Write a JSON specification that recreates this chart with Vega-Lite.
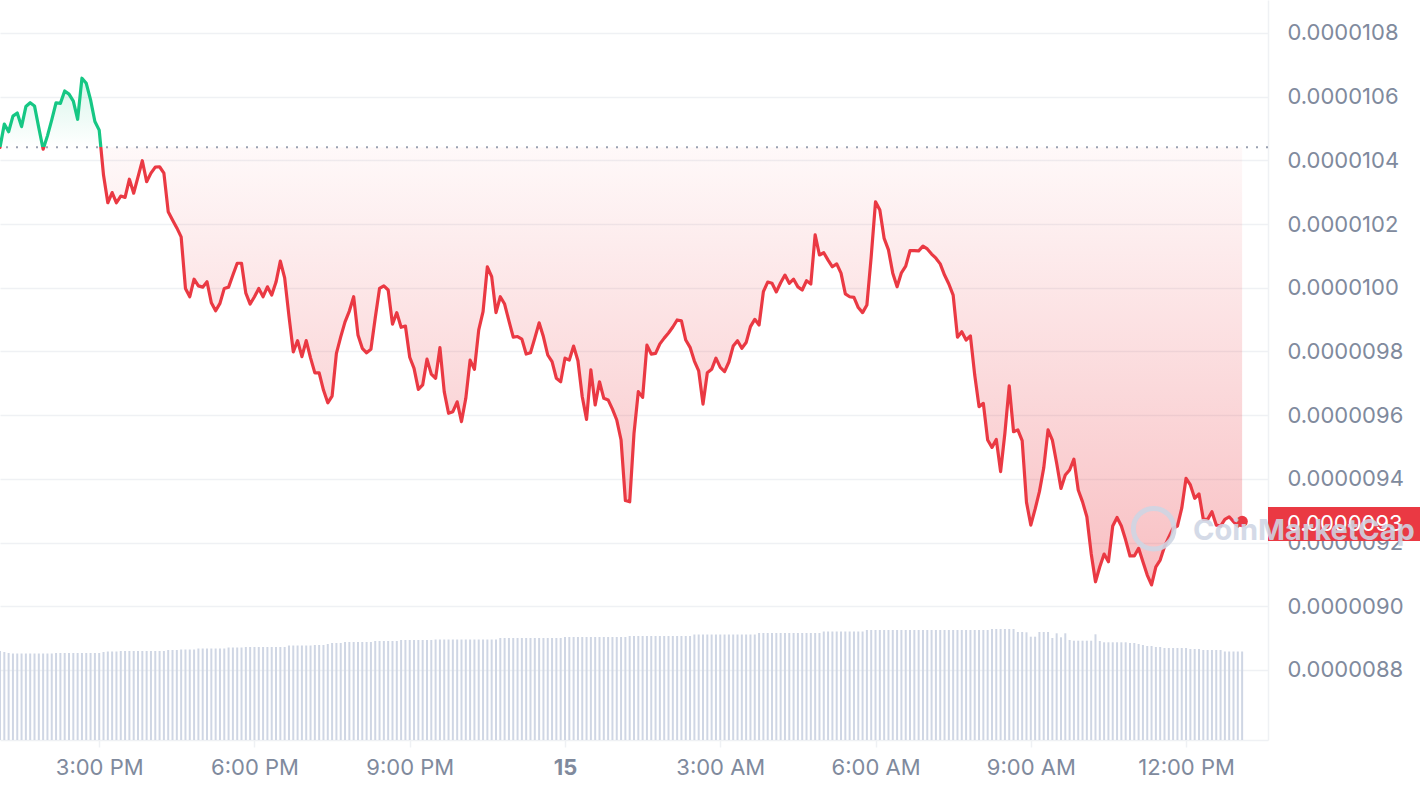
{
  "$schema": "https://vega.github.io/schema/vega-lite/v6.json",
  "width": 1268,
  "height": 740,
  "autosize": {"type": "none"},
  "padding": {"left": 0, "top": 0, "right": 152, "bottom": 52},
  "background": "#ffffff",
  "config": {"view": {"stroke": null}},
  "datasets": {
    "d": [
      {"t":"2024-12-14T13:05Z","p":10.441e-6,"v":89},
      {"t":"2024-12-14T13:10Z","p":10.514e-6,"v":88},
      {"t":"2024-12-14T13:15Z","p":10.490e-6,"v":87},
      {"t":"2024-12-14T13:20Z","p":10.539e-6,"v":86.5},
      {"t":"2024-12-14T13:25Z","p":10.549e-6,"v":86.5},
      {"t":"2024-12-14T13:30Z","p":10.506e-6,"v":86.5},
      {"t":"2024-12-14T13:35Z","p":10.569e-6,"v":86.5},
      {"t":"2024-12-14T13:40Z","p":10.581e-6,"v":86.5},
      {"t":"2024-12-14T13:45Z","p":10.571e-6,"v":86.5},
      {"t":"2024-12-14T13:50Z","p":10.502e-6,"v":86.5},
      {"t":"2024-12-14T13:55Z","p":10.435e-6,"v":86.5},
      {"t":"2024-12-14T14:00Z","p":10.477e-6,"v":86.5},
      {"t":"2024-12-14T14:05Z","p":10.527e-6,"v":86.5},
      {"t":"2024-12-14T14:10Z","p":10.581e-6,"v":87},
      {"t":"2024-12-14T14:15Z","p":10.579e-6,"v":87},
      {"t":"2024-12-14T14:20Z","p":10.618e-6,"v":87},
      {"t":"2024-12-14T14:25Z","p":10.608e-6,"v":87},
      {"t":"2024-12-14T14:30Z","p":10.586e-6,"v":87},
      {"t":"2024-12-14T14:35Z","p":10.529e-6,"v":87},
      {"t":"2024-12-14T14:40Z","p":10.658e-6,"v":87},
      {"t":"2024-12-14T14:45Z","p":10.642e-6,"v":87},
      {"t":"2024-12-14T14:50Z","p":10.590e-6,"v":87},
      {"t":"2024-12-14T14:55Z","p":10.522e-6,"v":87},
      {"t":"2024-12-14T15:00Z","p":10.495e-6,"v":87},
      {"t":"2024-12-14T15:05Z","p":10.354e-6,"v":88},
      {"t":"2024-12-14T15:10Z","p":10.267e-6,"v":88.5},
      {"t":"2024-12-14T15:15Z","p":10.299e-6,"v":88.5},
      {"t":"2024-12-14T15:20Z","p":10.267e-6,"v":88.5},
      {"t":"2024-12-14T15:25Z","p":10.288e-6,"v":89},
      {"t":"2024-12-14T15:30Z","p":10.284e-6,"v":89},
      {"t":"2024-12-14T15:35Z","p":10.341e-6,"v":89},
      {"t":"2024-12-14T15:40Z","p":10.297e-6,"v":89},
      {"t":"2024-12-14T15:45Z","p":10.348e-6,"v":89},
      {"t":"2024-12-14T15:50Z","p":10.399e-6,"v":89},
      {"t":"2024-12-14T15:55Z","p":10.333e-6,"v":89},
      {"t":"2024-12-14T16:00Z","p":10.360e-6,"v":89},
      {"t":"2024-12-14T16:05Z","p":10.379e-6,"v":89},
      {"t":"2024-12-14T16:10Z","p":10.380e-6,"v":89},
      {"t":"2024-12-14T16:15Z","p":10.360e-6,"v":89},
      {"t":"2024-12-14T16:20Z","p":10.239e-6,"v":90},
      {"t":"2024-12-14T16:25Z","p":10.213e-6,"v":90},
      {"t":"2024-12-14T16:30Z","p":10.188e-6,"v":90},
      {"t":"2024-12-14T16:35Z","p":10.160e-6,"v":90.5},
      {"t":"2024-12-14T16:40Z","p":9.998e-6,"v":90.5},
      {"t":"2024-12-14T16:45Z","p":9.972e-6,"v":90.5},
      {"t":"2024-12-14T16:50Z","p":10.027e-6,"v":90.5},
      {"t":"2024-12-14T16:55Z","p":10.006e-6,"v":91.5},
      {"t":"2024-12-14T17:00Z","p":10.002e-6,"v":91.5},
      {"t":"2024-12-14T17:05Z","p":10.019e-6,"v":91.5},
      {"t":"2024-12-14T17:10Z","p":9.953e-6,"v":91.5},
      {"t":"2024-12-14T17:15Z","p":9.928e-6,"v":91.5},
      {"t":"2024-12-14T17:20Z","p":9.951e-6,"v":91.5},
      {"t":"2024-12-14T17:25Z","p":9.998e-6,"v":91.5},
      {"t":"2024-12-14T17:30Z","p":10.002e-6,"v":92.5},
      {"t":"2024-12-14T17:35Z","p":10.040e-6,"v":92.5},
      {"t":"2024-12-14T17:40Z","p":10.077e-6,"v":92.5},
      {"t":"2024-12-14T17:45Z","p":10.077e-6,"v":92.5},
      {"t":"2024-12-14T17:50Z","p":9.983e-6,"v":93},
      {"t":"2024-12-14T17:55Z","p":9.949e-6,"v":93},
      {"t":"2024-12-14T18:00Z","p":9.972e-6,"v":93},
      {"t":"2024-12-14T18:05Z","p":9.998e-6,"v":93},
      {"t":"2024-12-14T18:10Z","p":9.972e-6,"v":93},
      {"t":"2024-12-14T18:15Z","p":10.003e-6,"v":93},
      {"t":"2024-12-14T18:20Z","p":9.977e-6,"v":93},
      {"t":"2024-12-14T18:25Z","p":10.018e-6,"v":93},
      {"t":"2024-12-14T18:30Z","p":10.084e-6,"v":93},
      {"t":"2024-12-14T18:35Z","p":10.031e-6,"v":93},
      {"t":"2024-12-14T18:40Z","p":9.911e-6,"v":94.5},
      {"t":"2024-12-14T18:45Z","p":9.799e-6,"v":94.5},
      {"t":"2024-12-14T18:50Z","p":9.834e-6,"v":94.5},
      {"t":"2024-12-14T18:55Z","p":9.784e-6,"v":94.5},
      {"t":"2024-12-14T19:00Z","p":9.834e-6,"v":94.5},
      {"t":"2024-12-14T19:05Z","p":9.780e-6,"v":94.5},
      {"t":"2024-12-14T19:10Z","p":9.733e-6,"v":95},
      {"t":"2024-12-14T19:15Z","p":9.733e-6,"v":95},
      {"t":"2024-12-14T19:20Z","p":9.679e-6,"v":95},
      {"t":"2024-12-14T19:25Z","p":9.639e-6,"v":96},
      {"t":"2024-12-14T19:30Z","p":9.660e-6,"v":97},
      {"t":"2024-12-14T19:35Z","p":9.794e-6,"v":97},
      {"t":"2024-12-14T19:40Z","p":9.846e-6,"v":97},
      {"t":"2024-12-14T19:45Z","p":9.893e-6,"v":98},
      {"t":"2024-12-14T19:50Z","p":9.927e-6,"v":98},
      {"t":"2024-12-14T19:55Z","p":9.972e-6,"v":98},
      {"t":"2024-12-14T20:00Z","p":9.852e-6,"v":98},
      {"t":"2024-12-14T20:05Z","p":9.810e-6,"v":98},
      {"t":"2024-12-14T20:10Z","p":9.796e-6,"v":98},
      {"t":"2024-12-14T20:15Z","p":9.807e-6,"v":98},
      {"t":"2024-12-14T20:20Z","p":9.905e-6,"v":99},
      {"t":"2024-12-14T20:25Z","p":9.998e-6,"v":99},
      {"t":"2024-12-14T20:30Z","p":10.006e-6,"v":99},
      {"t":"2024-12-14T20:35Z","p":9.993e-6,"v":99},
      {"t":"2024-12-14T20:40Z","p":9.886e-6,"v":99},
      {"t":"2024-12-14T20:45Z","p":9.922e-6,"v":99},
      {"t":"2024-12-14T20:50Z","p":9.876e-6,"v":100},
      {"t":"2024-12-14T20:55Z","p":9.880e-6,"v":100},
      {"t":"2024-12-14T21:00Z","p":9.782e-6,"v":100},
      {"t":"2024-12-14T21:05Z","p":9.747e-6,"v":100},
      {"t":"2024-12-14T21:10Z","p":9.681e-6,"v":100},
      {"t":"2024-12-14T21:15Z","p":9.695e-6,"v":100},
      {"t":"2024-12-14T21:20Z","p":9.776e-6,"v":100},
      {"t":"2024-12-14T21:25Z","p":9.729e-6,"v":100},
      {"t":"2024-12-14T21:30Z","p":9.716e-6,"v":100.5},
      {"t":"2024-12-14T21:35Z","p":9.812e-6,"v":100.5},
      {"t":"2024-12-14T21:40Z","p":9.674e-6,"v":100.5},
      {"t":"2024-12-14T21:45Z","p":9.606e-6,"v":100.5},
      {"t":"2024-12-14T21:50Z","p":9.611e-6,"v":100.5},
      {"t":"2024-12-14T21:55Z","p":9.642e-6,"v":100.5},
      {"t":"2024-12-14T22:00Z","p":9.580e-6,"v":100.5},
      {"t":"2024-12-14T22:05Z","p":9.653e-6,"v":100.5},
      {"t":"2024-12-14T22:10Z","p":9.773e-6,"v":100.5},
      {"t":"2024-12-14T22:15Z","p":9.744e-6,"v":100.5},
      {"t":"2024-12-14T22:20Z","p":9.868e-6,"v":100.5},
      {"t":"2024-12-14T22:25Z","p":9.925e-6,"v":100.5},
      {"t":"2024-12-14T22:30Z","p":10.066e-6,"v":100.5},
      {"t":"2024-12-14T22:35Z","p":10.035e-6,"v":100.5},
      {"t":"2024-12-14T22:40Z","p":9.922e-6,"v":100.5},
      {"t":"2024-12-14T22:45Z","p":9.972e-6,"v":102},
      {"t":"2024-12-14T22:50Z","p":9.949e-6,"v":102},
      {"t":"2024-12-14T22:55Z","p":9.896e-6,"v":102},
      {"t":"2024-12-14T23:00Z","p":9.845e-6,"v":102},
      {"t":"2024-12-14T23:05Z","p":9.847e-6,"v":102},
      {"t":"2024-12-14T23:10Z","p":9.839e-6,"v":102},
      {"t":"2024-12-14T23:15Z","p":9.792e-6,"v":102},
      {"t":"2024-12-14T23:20Z","p":9.796e-6,"v":102},
      {"t":"2024-12-14T23:25Z","p":9.842e-6,"v":102},
      {"t":"2024-12-14T23:30Z","p":9.890e-6,"v":102},
      {"t":"2024-12-14T23:35Z","p":9.846e-6,"v":102},
      {"t":"2024-12-14T23:40Z","p":9.789e-6,"v":102},
      {"t":"2024-12-14T23:45Z","p":9.768e-6,"v":102},
      {"t":"2024-12-14T23:50Z","p":9.716e-6,"v":102},
      {"t":"2024-12-14T23:55Z","p":9.705e-6,"v":102},
      {"t":"2024-12-15T00:00Z","p":9.779e-6,"v":103},
      {"t":"2024-12-15T00:05Z","p":9.773e-6,"v":103},
      {"t":"2024-12-15T00:10Z","p":9.817e-6,"v":103},
      {"t":"2024-12-15T00:15Z","p":9.771e-6,"v":103},
      {"t":"2024-12-15T00:20Z","p":9.658e-6,"v":103},
      {"t":"2024-12-15T00:25Z","p":9.587e-6,"v":103},
      {"t":"2024-12-15T00:30Z","p":9.742e-6,"v":103},
      {"t":"2024-12-15T00:35Z","p":9.632e-6,"v":103},
      {"t":"2024-12-15T00:40Z","p":9.705e-6,"v":103},
      {"t":"2024-12-15T00:45Z","p":9.653e-6,"v":103},
      {"t":"2024-12-15T00:50Z","p":9.648e-6,"v":103},
      {"t":"2024-12-15T00:55Z","p":9.619e-6,"v":103},
      {"t":"2024-12-15T01:00Z","p":9.585e-6,"v":103},
      {"t":"2024-12-15T01:05Z","p":9.522e-6,"v":103},
      {"t":"2024-12-15T01:10Z","p":9.332e-6,"v":103},
      {"t":"2024-12-15T01:15Z","p":9.328e-6,"v":104},
      {"t":"2024-12-15T01:20Z","p":9.543e-6,"v":104},
      {"t":"2024-12-15T01:25Z","p":9.674e-6,"v":104},
      {"t":"2024-12-15T01:30Z","p":9.656e-6,"v":104},
      {"t":"2024-12-15T01:35Z","p":9.820e-6,"v":104},
      {"t":"2024-12-15T01:40Z","p":9.792e-6,"v":104},
      {"t":"2024-12-15T01:45Z","p":9.794e-6,"v":104},
      {"t":"2024-12-15T01:50Z","p":9.824e-6,"v":104},
      {"t":"2024-12-15T01:55Z","p":9.842e-6,"v":104},
      {"t":"2024-12-15T02:00Z","p":9.858e-6,"v":104},
      {"t":"2024-12-15T02:05Z","p":9.877e-6,"v":104},
      {"t":"2024-12-15T02:10Z","p":9.899e-6,"v":104},
      {"t":"2024-12-15T02:15Z","p":9.896e-6,"v":104},
      {"t":"2024-12-15T02:20Z","p":9.836e-6,"v":104},
      {"t":"2024-12-15T02:25Z","p":9.813e-6,"v":104},
      {"t":"2024-12-15T02:30Z","p":9.770e-6,"v":105.5},
      {"t":"2024-12-15T02:35Z","p":9.739e-6,"v":105.5},
      {"t":"2024-12-15T02:40Z","p":9.635e-6,"v":105.5},
      {"t":"2024-12-15T02:45Z","p":9.733e-6,"v":105.5},
      {"t":"2024-12-15T02:50Z","p":9.744e-6,"v":105.5},
      {"t":"2024-12-15T02:55Z","p":9.779e-6,"v":105.5},
      {"t":"2024-12-15T03:00Z","p":9.750e-6,"v":105.5},
      {"t":"2024-12-15T03:05Z","p":9.737e-6,"v":105.5},
      {"t":"2024-12-15T03:10Z","p":9.767e-6,"v":105.5},
      {"t":"2024-12-15T03:15Z","p":9.817e-6,"v":105.5},
      {"t":"2024-12-15T03:20Z","p":9.834e-6,"v":105.5},
      {"t":"2024-12-15T03:25Z","p":9.810e-6,"v":105.5},
      {"t":"2024-12-15T03:30Z","p":9.828e-6,"v":105.5},
      {"t":"2024-12-15T03:35Z","p":9.878e-6,"v":105.5},
      {"t":"2024-12-15T03:40Z","p":9.901e-6,"v":105.5},
      {"t":"2024-12-15T03:45Z","p":9.883e-6,"v":107},
      {"t":"2024-12-15T03:50Z","p":9.988e-6,"v":107},
      {"t":"2024-12-15T03:55Z","p":10.018e-6,"v":107},
      {"t":"2024-12-15T04:00Z","p":10.014e-6,"v":107},
      {"t":"2024-12-15T04:05Z","p":9.987e-6,"v":107},
      {"t":"2024-12-15T04:10Z","p":10.016e-6,"v":107},
      {"t":"2024-12-15T04:15Z","p":10.040e-6,"v":107},
      {"t":"2024-12-15T04:20Z","p":10.014e-6,"v":107},
      {"t":"2024-12-15T04:25Z","p":10.027e-6,"v":107},
      {"t":"2024-12-15T04:30Z","p":10.003e-6,"v":107},
      {"t":"2024-12-15T04:35Z","p":9.993e-6,"v":107},
      {"t":"2024-12-15T04:40Z","p":10.022e-6,"v":107},
      {"t":"2024-12-15T04:45Z","p":10.012e-6,"v":107},
      {"t":"2024-12-15T04:50Z","p":10.166e-6,"v":107},
      {"t":"2024-12-15T04:55Z","p":10.103e-6,"v":107},
      {"t":"2024-12-15T05:00Z","p":10.110e-6,"v":108.5},
      {"t":"2024-12-15T05:05Z","p":10.087e-6,"v":108.5},
      {"t":"2024-12-15T05:10Z","p":10.066e-6,"v":108.5},
      {"t":"2024-12-15T05:15Z","p":10.075e-6,"v":108.5},
      {"t":"2024-12-15T05:20Z","p":10.046e-6,"v":108.5},
      {"t":"2024-12-15T05:25Z","p":9.981e-6,"v":108.5},
      {"t":"2024-12-15T05:30Z","p":9.972e-6,"v":108.5},
      {"t":"2024-12-15T05:35Z","p":9.970e-6,"v":108.5},
      {"t":"2024-12-15T05:40Z","p":9.938e-6,"v":108.5},
      {"t":"2024-12-15T05:45Z","p":9.922e-6,"v":108.5},
      {"t":"2024-12-15T05:50Z","p":9.946e-6,"v":110},
      {"t":"2024-12-15T05:55Z","p":10.098e-6,"v":110},
      {"t":"2024-12-15T06:00Z","p":10.270e-6,"v":110},
      {"t":"2024-12-15T06:05Z","p":10.244e-6,"v":110},
      {"t":"2024-12-15T06:10Z","p":10.155e-6,"v":110},
      {"t":"2024-12-15T06:15Z","p":10.119e-6,"v":110},
      {"t":"2024-12-15T06:20Z","p":10.046e-6,"v":110},
      {"t":"2024-12-15T06:25Z","p":10.003e-6,"v":110},
      {"t":"2024-12-15T06:30Z","p":10.047e-6,"v":110},
      {"t":"2024-12-15T06:35Z","p":10.068e-6,"v":110},
      {"t":"2024-12-15T06:40Z","p":10.117e-6,"v":110},
      {"t":"2024-12-15T06:45Z","p":10.117e-6,"v":110},
      {"t":"2024-12-15T06:50Z","p":10.116e-6,"v":110},
      {"t":"2024-12-15T06:55Z","p":10.131e-6,"v":110},
      {"t":"2024-12-15T07:00Z","p":10.122e-6,"v":110},
      {"t":"2024-12-15T07:05Z","p":10.106e-6,"v":110},
      {"t":"2024-12-15T07:10Z","p":10.093e-6,"v":110},
      {"t":"2024-12-15T07:15Z","p":10.075e-6,"v":110},
      {"t":"2024-12-15T07:20Z","p":10.040e-6,"v":110},
      {"t":"2024-12-15T07:25Z","p":10.012e-6,"v":110},
      {"t":"2024-12-15T07:30Z","p":9.977e-6,"v":110},
      {"t":"2024-12-15T07:35Z","p":9.845e-6,"v":110},
      {"t":"2024-12-15T07:40Z","p":9.862e-6,"v":110},
      {"t":"2024-12-15T07:45Z","p":9.836e-6,"v":110},
      {"t":"2024-12-15T07:50Z","p":9.849e-6,"v":110},
      {"t":"2024-12-15T07:55Z","p":9.726e-6,"v":110},
      {"t":"2024-12-15T08:00Z","p":9.627e-6,"v":110},
      {"t":"2024-12-15T08:05Z","p":9.637e-6,"v":110},
      {"t":"2024-12-15T08:10Z","p":9.522e-6,"v":110},
      {"t":"2024-12-15T08:15Z","p":9.499e-6,"v":111},
      {"t":"2024-12-15T08:20Z","p":9.524e-6,"v":111},
      {"t":"2024-12-15T08:25Z","p":9.423e-6,"v":111},
      {"t":"2024-12-15T08:30Z","p":9.544e-6,"v":111},
      {"t":"2024-12-15T08:35Z","p":9.692e-6,"v":111},
      {"t":"2024-12-15T08:40Z","p":9.548e-6,"v":111},
      {"t":"2024-12-15T08:45Z","p":9.554e-6,"v":108},
      {"t":"2024-12-15T08:50Z","p":9.520e-6,"v":108},
      {"t":"2024-12-15T08:55Z","p":9.327e-6,"v":107.7},
      {"t":"2024-12-15T09:00Z","p":9.255e-6,"v":103.3},
      {"t":"2024-12-15T09:05Z","p":9.305e-6,"v":103.3},
      {"t":"2024-12-15T09:10Z","p":9.360e-6,"v":108},
      {"t":"2024-12-15T09:15Z","p":9.434e-6,"v":108},
      {"t":"2024-12-15T09:20Z","p":9.554e-6,"v":108},
      {"t":"2024-12-15T09:25Z","p":9.522e-6,"v":102},
      {"t":"2024-12-15T09:30Z","p":9.449e-6,"v":106.7},
      {"t":"2024-12-15T09:35Z","p":9.370e-6,"v":102.7},
      {"t":"2024-12-15T09:40Z","p":9.412e-6,"v":106.7},
      {"t":"2024-12-15T09:45Z","p":9.428e-6,"v":100},
      {"t":"2024-12-15T09:50Z","p":9.462e-6,"v":99.3},
      {"t":"2024-12-15T09:55Z","p":9.365e-6,"v":99.3},
      {"t":"2024-12-15T10:00Z","p":9.328e-6,"v":99.3},
      {"t":"2024-12-15T10:05Z","p":9.281e-6,"v":99.3},
      {"t":"2024-12-15T10:10Z","p":9.166e-6,"v":99.3},
      {"t":"2024-12-15T10:15Z","p":9.077e-6,"v":105.7},
      {"t":"2024-12-15T10:20Z","p":9.124e-6,"v":99},
      {"t":"2024-12-15T10:25Z","p":9.164e-6,"v":97.7},
      {"t":"2024-12-15T10:30Z","p":9.140e-6,"v":97.7},
      {"t":"2024-12-15T10:35Z","p":9.252e-6,"v":97.7},
      {"t":"2024-12-15T10:40Z","p":9.279e-6,"v":97.7},
      {"t":"2024-12-15T10:45Z","p":9.252e-6,"v":97.7},
      {"t":"2024-12-15T10:50Z","p":9.208e-6,"v":97.7},
      {"t":"2024-12-15T10:55Z","p":9.158e-6,"v":97},
      {"t":"2024-12-15T11:00Z","p":9.158e-6,"v":97},
      {"t":"2024-12-15T11:05Z","p":9.182e-6,"v":96},
      {"t":"2024-12-15T11:10Z","p":9.140e-6,"v":95},
      {"t":"2024-12-15T11:15Z","p":9.098e-6,"v":94},
      {"t":"2024-12-15T11:20Z","p":9.067e-6,"v":94},
      {"t":"2024-12-15T11:25Z","p":9.124e-6,"v":93},
      {"t":"2024-12-15T11:30Z","p":9.145e-6,"v":93},
      {"t":"2024-12-15T11:35Z","p":9.187e-6,"v":92},
      {"t":"2024-12-15T11:40Z","p":9.217e-6,"v":92},
      {"t":"2024-12-15T11:45Z","p":9.245e-6,"v":92},
      {"t":"2024-12-15T11:50Z","p":9.252e-6,"v":92},
      {"t":"2024-12-15T11:55Z","p":9.308e-6,"v":92},
      {"t":"2024-12-15T12:00Z","p":9.402e-6,"v":92},
      {"t":"2024-12-15T12:05Z","p":9.381e-6,"v":91},
      {"t":"2024-12-15T12:10Z","p":9.339e-6,"v":91},
      {"t":"2024-12-15T12:15Z","p":9.353e-6,"v":91},
      {"t":"2024-12-15T12:20Z","p":9.273e-6,"v":90},
      {"t":"2024-12-15T12:25Z","p":9.273e-6,"v":90},
      {"t":"2024-12-15T12:30Z","p":9.297e-6,"v":90},
      {"t":"2024-12-15T12:35Z","p":9.255e-6,"v":90},
      {"t":"2024-12-15T12:40Z","p":9.252e-6,"v":90},
      {"t":"2024-12-15T12:45Z","p":9.273e-6,"v":88.5},
      {"t":"2024-12-15T12:50Z","p":9.281e-6,"v":88.5},
      {"t":"2024-12-15T12:55Z","p":9.266e-6,"v":88.5},
      {"t":"2024-12-15T13:00Z","p":9.252e-6,"v":88.5},
      {"t":"2024-12-15T13:05Z","p":9.266e-6,"v":88.5}
    ]
  },
  "resolve": {"scale": {"y": "independent"}},
  "layer": [
    {
      "data": {"name": "d"},
      "mark": {"type": "rule", "stroke": "#cfd6e4", "strokeWidth": 2},
      "encoding": {
        "x": {
          "field": "t", "type": "temporal",
          "scale": {"type": "utc", "domain": [1734181500000, 1734269700000]},
          "axis": {
            "orient": "bottom",
            "title": null,
            "grid": false,
            "values": [1734188400000, 1734199200000, 1734210000000, 1734220800000, 1734231600000, 1734242400000, 1734253200000, 1734264000000],
            "labelExpr": "utchours(datum.value) == 0 ? utcFormat(datum.value, '%-d') : utcFormat(datum.value, '%-I:%M %p')",
            "labelFontWeight": {"condition": {"test": "utchours(datum.value) == 0", "value": "bold"}, "value": "normal"},
            "labelFont": "Inter",
            "labelFontSize": 22,
            "labelColor": "#808a9d",
            "labelPadding": 10,
            "labelOverlap": false,
            "labelFlush": false,
            "domainColor": "#eff1f4",
            "domainWidth": 1.5,
            "tickColor": "#eff1f4",
            "tickWidth": 1.5,
            "tickSize": 7
          }
        },
        "y": {"field": "v", "type": "quantitative", "scale": {"domain": [0, 740]}, "axis": null},
        "y2": {"datum": 0}
      }
    },
    {
      "layer": [
        {
          "data": {"name": "d"},
          "mark": {"type": "area", "line": false, "fill": {
            "gradient": "linear", "x1": 0, "y1": 0, "x2": 0, "y2": 1,
            "stops": [
              {"offset": 0, "color": "rgba(22,199,132,0.17)"},
              {"offset": 0.1364, "color": "rgba(22,199,132,0.0)"},
              {"offset": 0.1364, "color": "rgba(234,57,67,0.03)"},
              {"offset": 1, "color": "rgba(234,57,67,0.32)"}
            ]
          }},
          "encoding": {
            "x": {"field": "t", "type": "temporal"},
            "y": {
              "field": "p", "type": "quantitative",
              "scale": {"domain": [8.5802e-6, 10.9036e-6], "nice": false, "zero": false},
              "axis": {
                "orient": "right",
                "title": null,
                "values": [8.8e-6, 9.0e-6, 9.2e-6, 9.4e-6, 9.6e-6, 9.8e-6, 10.0e-6, 10.2e-6, 10.4e-6, 10.6e-6, 10.8e-6],
                "format": ".7f",
                "grid": true,
                "gridColor": "#eff1f4",
                "gridWidth": 1.5,
                "ticks": false,
                "domainColor": "#eff1f4",
                "domainWidth": 1.5,
                "labelFont": "Inter",
                "labelFontSize": 22,
                "labelColor": "#808a9d",
                "labelPadding": 19,
                "labelOverlap": false,
                "labelFlush": false
              }
            },
            "y2": {"datum": 10.441e-6}
          }
        },
        {
          "data": {"values": [{}]},
          "mark": {"type": "rule", "stroke": "#9aa1b1", "strokeWidth": 2, "strokeDash": [2, 8]},
          "encoding": {"y": {"datum": 10.441e-6, "type": "quantitative"}}
        },
        {
          "data": {"name": "d"},
          "mark": {"type": "line", "strokeWidth": 3.2, "strokeJoin": "round", "strokeCap": "round", "stroke": {
            "gradient": "linear", "x1": 0, "y1": 0, "x2": 0, "y2": 1,
            "stops": [
              {"offset": 0, "color": "#16c784"},
              {"offset": 0.1364, "color": "#16c784"},
              {"offset": 0.1364, "color": "#ea3943"},
              {"offset": 1, "color": "#ea3943"}
            ]
          }},
          "encoding": {
            "x": {"field": "t", "type": "temporal"},
            "y": {"field": "p", "type": "quantitative"}
          }
        },
        {
          "data": {"values": [{"t": "2024-12-15T13:05Z", "p": 9.266e-6}]},
          "mark": {"type": "point", "filled": true, "color": "#ea3943", "size": 130, "opacity": 1},
          "encoding": {
            "x": {"field": "t", "type": "temporal"},
            "y": {"field": "p", "type": "quantitative"}
          }
        },
        {
          "data": {"values": [{}]},
          "mark": {"type": "rect", "color": "#ea3943"},
          "encoding": {
            "x": {"datum": 1734269700000, "type": "temporal"},
            "x2": {"datum": 1734280800000},
            "y": {"datum": 9.3118e-6, "type": "quantitative"},
            "y2": {"datum": 9.205e-6}
          }
        },
        {
          "data": {"values": [{"t": "2024-12-15T13:57Z", "p": 9.2584e-6}]},
          "mark": {"type": "text", "color": "#ffffff", "font": "Inter", "fontSize": 22, "align": "left", "baseline": "middle"},
          "encoding": {
            "x": {"field": "t", "type": "temporal"},
            "y": {"field": "p", "type": "quantitative"},
            "text": {"field": "p", "type": "quantitative", "format": ".7f"}
          }
        },
        {
          "data": {"values": [{}]},
          "mark": {"type": "point", "shape": "circle", "filled": false, "stroke": "#cfd6e4", "strokeWidth": 5, "size": 1650, "opacity": 0.9},
          "encoding": {
            "x": {"datum": 1734261750000, "type": "temporal"},
            "y": {"datum": 9.2436e-6, "type": "quantitative"}
          }
        },
        {
          "data": {"values": [{}]},
          "mark": {"type": "text", "text": "CoinMarketCap", "color": "#cfd6e4", "opacity": 0.88, "font": "Inter", "fontWeight": "bold", "fontSize": 29, "align": "left", "baseline": "alphabetic"},
          "encoding": {
            "x": {"datum": 1734264480000, "type": "temporal"},
            "y": {"datum": 9.208e-6, "type": "quantitative"}
          }
        }
      ]
    }
  ]
}
